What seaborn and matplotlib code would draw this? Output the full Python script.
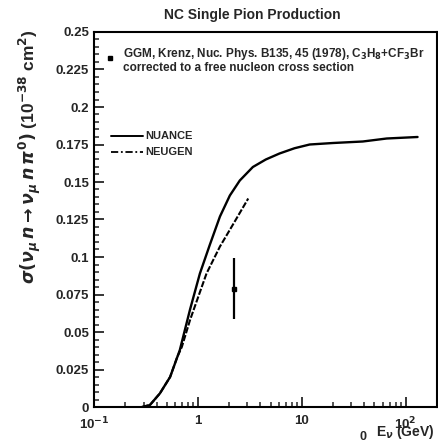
import numpy as np
import pandas as pd
import matplotlib
matplotlib.use("Agg")
import matplotlib.pyplot as plt
import seaborn as sns
from matplotlib.ticker import LogLocator, MultipleLocator, FixedLocator, FixedFormatter, NullFormatter

# ---- data ----
nuance_E = [0.29, 0.345, 0.43, 0.54, 0.67, 0.84, 1.045, 1.30, 1.63, 2.03, 2.53, 3.38, 4.5, 6.1, 8.5, 11.9, 20.0, 38.6, 65.6, 130.0]
nuance_xs = [0.0, 0.0013, 0.009, 0.020, 0.038, 0.065, 0.089, 0.108, 0.127, 0.141, 0.151, 0.160, 0.165, 0.169, 0.1725, 0.175, 0.176, 0.177, 0.179, 0.180]

neugen_E = [0.29, 0.345, 0.43, 0.54, 0.63, 0.70, 0.84, 1.21, 1.63, 2.19, 3.05]
neugen_xs = [0.0, 0.0013, 0.009, 0.020, 0.033, 0.040, 0.058, 0.089, 0.107, 0.122, 0.139]

data_E = [2.23]
data_xs = [0.079]
data_err = [0.0205]

yticks = [0, 0.025, 0.05, 0.075, 0.1, 0.125, 0.15, 0.175, 0.2, 0.225, 0.25]
ytick_labels = ["0", "0.025", "0.05", "0.075", "0.1", "0.125", "0.15", "0.175", "0.2", "0.225", "0.25"]
xticks = [0.1, 1, 10, 100]
xtick_labels = [r"10$^{-1}$", "1", "10", r"10$^{2}$"]

title = "NC Single Pion Production"
legend_labels = ["NUANCE", "NEUGEN"]
data_label_1 = r"GGM, Krenz, Nuc. Phys. B135, 45 (1978), C$_3$H$_8$+CF$_3$Br"
data_label_2 = "corrected to a free nucleon cross section"

# ---- style ----
sns.set_style("ticks")
plt.rcParams["font.family"] = ["Liberation Sans", "DejaVu Sans"]
plt.rcParams["font.weight"] = "bold"
plt.rcParams["mathtext.fontset"] = "dejavusans"

W, H = 438, 444
X0, X1, Y0, Y1 = 94, 437, 407, 32
fig = plt.figure(figsize=(W / 100, H / 100), dpi=100)
ax = fig.add_axes([X0 / W, (H - Y0) / H, (X1 - X0) / W, (Y0 - Y1) / H])


def fx(px):
    return (px - X0) / (X1 - X0)


def fy(py):
    return (Y0 - py) / (Y0 - Y1)


df_nu = pd.DataFrame({"E": nuance_E, "xs": nuance_xs})
df_ng = pd.DataFrame({"E": neugen_E, "xs": neugen_xs})

sns.lineplot(data=df_nu, x="E", y="xs", ax=ax, color="black", lw=1.7, sort=True)
sns.lineplot(data=df_ng, x="E", y="xs", ax=ax, color="black", lw=1.5, sort=True,
             linestyle=(0, (3.0, 0.9)))
ax.errorbar(data_E, data_xs, yerr=data_err, fmt="s", ms=3.5, color="black",
            ecolor="black", elinewidth=1.6, capsize=0)

ax.set_xscale("log")
ax.set_xlim(0.1, 200)
ax.set_ylim(0, 0.25)

ax.xaxis.set_major_locator(FixedLocator(xticks))
ax.xaxis.set_major_formatter(FixedFormatter(xtick_labels))
ax.xaxis.set_minor_locator(LogLocator(base=10, subs=np.arange(2, 10)))
ax.xaxis.set_minor_formatter(NullFormatter())
ax.yaxis.set_major_locator(FixedLocator(yticks))
ax.yaxis.set_major_formatter(FixedFormatter(ytick_labels))
ax.yaxis.set_minor_locator(MultipleLocator(0.005))

ax.tick_params(which="major", direction="in", length=7, width=1.3, labelsize=9.5,
               top=False, right=False)
ax.tick_params(which="minor", direction="in", length=3.5, width=1.1, top=False, right=False)
ax.tick_params(axis="x", pad=6)
for lab in ax.get_xticklabels() + ax.get_yticklabels():
    lab.set_fontweight("bold")
for s in ax.spines.values():
    s.set_visible(True)
    s.set_linewidth(1.5)
    s.set_color("black")

ax.set_xlabel("")
ax.set_ylabel("")

# legend (manual, as in reference)
tr = ax.transAxes
ax.plot([fx(111), fx(143)], [fy(136), fy(136)], color="black", lw=1.4, transform=tr)
ax.plot([fx(111), fx(143)], [fy(152), fy(152)], color="black", lw=1.3,
        linestyle=(0, (4, 1.5, 1, 1.5)), transform=tr)
ax.text(fx(145), fy(136), legend_labels[0], fontsize=8, fontweight="bold",
        va="center", ha="left", transform=tr)
ax.text(fx(145), fy(152), legend_labels[1], fontsize=8, fontweight="bold",
        va="center", ha="left", transform=tr)

# data annotation
ax.plot([fx(110)], [fy(58)], marker="s", ms=3, color="black", transform=tr, clip_on=False)
ax.text(fx(123), fy(53.5), data_label_1, fontsize=8.5, fontweight="bold",
        va="center", ha="left", transform=tr)
ax.text(fx(123), fy(68), data_label_2, fontsize=8.5, fontweight="bold",
        va="center", ha="left", transform=tr)

# title and axis labels
fig.text(252 / W, 1 - 15 / H, title, fontsize=10, fontweight="bold", ha="center", va="center")
fig.text(30 / W, 1 - 157 / H,
         r"$\sigma(\nu_{\mu}\, n \rightarrow \nu_{\mu}\, n\, \pi^{0})$ (10$^{-38}$ cm$^{2}$)",
         rotation=90, fontsize=12.5, ha="center", va="center")
fig.text(405 / W, 1 - 432 / H, r"E$_{\nu}$ (GeV)", fontsize=10, fontweight="bold", ha="center", va="center")
fig.text(363 / W, 1 - 437 / H, "0", fontsize=9, ha="center", va="center")

fig.savefig("out.png", dpi=100)
